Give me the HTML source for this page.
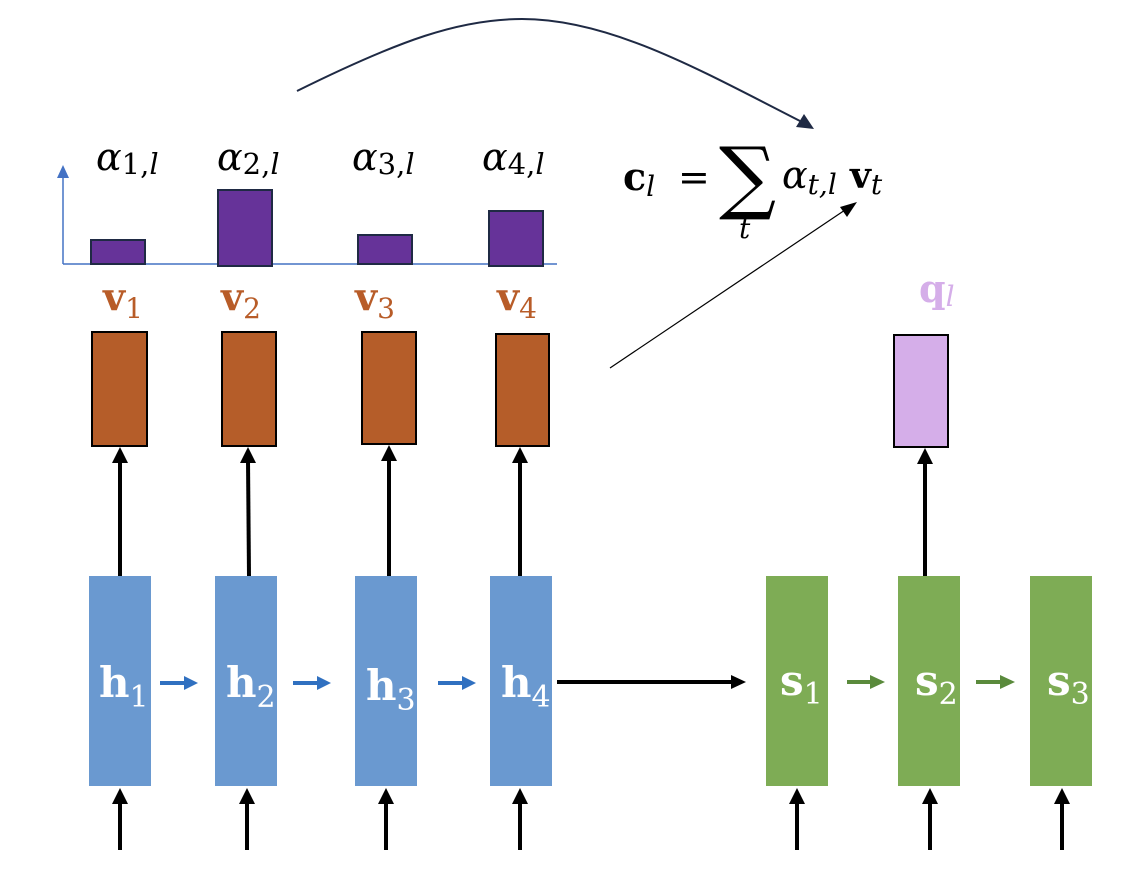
<!DOCTYPE html>
<html><head><meta charset="utf-8"><style>
html,body{margin:0;padding:0;background:#fff;}
svg{display:block;}
.m{font-family:"DejaVu Serif","Liberation Serif",serif;}
</style></head><body>
<svg width="1142" height="876" viewBox="0 0 1142 876" xmlns="http://www.w3.org/2000/svg">
<path d="M297,91 C400,40 460,19 522,19 C610,19 700,70 800,121" fill="none" stroke="#1f2a44" stroke-width="2"/>
<path d="M814,129 L796,127 L804,114 z" fill="#1f2a44"/>
<line x1="610" y1="368" x2="848" y2="208" stroke="#000" stroke-width="1.2"/>
<path d="M857,202 L840,207 L847,217 z" fill="#000"/>
<line x1="63" y1="264" x2="557" y2="264" stroke="#4472c4" stroke-width="1.5"/>
<line x1="63" y1="264" x2="63" y2="176" stroke="#4472c4" stroke-width="1.5"/>
<path d="M57,178 L69,178 L63,165 z" fill="#4472c4"/>
<g fill="#663399" stroke="#1f2a44" stroke-width="2">
<rect x="91" y="240" width="54" height="24"/>
<rect x="218" y="190" width="54" height="76"/>
<rect x="358" y="235" width="54" height="29"/>
<rect x="489" y="211" width="54" height="55"/>
</g>
<g class="m" font-size="38" font-style="italic" fill="#000">
<text x="96" y="170">α<tspan font-size="29" font-style="normal" dy="4">1,</tspan><tspan font-size="29">l</tspan></text>
<text x="217" y="170">α<tspan font-size="29" font-style="normal" dy="4">2,</tspan><tspan font-size="29">l</tspan></text>
<text x="352" y="170">α<tspan font-size="29" font-style="normal" dy="4">3,</tspan><tspan font-size="29">l</tspan></text>
<text x="482" y="170">α<tspan font-size="29" font-style="normal" dy="4">4,</tspan><tspan font-size="29">l</tspan></text>
</g>
<g class="m" font-size="38" font-weight="bold" fill="#b85c28">
<text x="103" y="310">v<tspan font-size="28" font-weight="normal" dy="8">1</tspan></text>
<text x="221" y="310">v<tspan font-size="28" font-weight="normal" dy="8">2</tspan></text>
<text x="355" y="310">v<tspan font-size="28" font-weight="normal" dy="8">3</tspan></text>
<text x="497" y="310">v<tspan font-size="28" font-weight="normal" dy="8">4</tspan></text>
</g>
<g class="m" fill="#000">
<text x="623" y="190" font-size="38" font-weight="bold">c<tspan font-size="28" font-weight="normal" font-style="italic" dy="6">l</tspan></text>
<text x="678" y="190" font-size="38">=</text>
<text x="719" y="204" font-size="80">∑</text>
<text x="739" y="238" font-size="28" font-style="italic">t</text>
<text x="782" y="188" font-size="38" font-style="italic">α<tspan font-size="28" dy="6">t,l</tspan></text>
<text x="850" y="188" font-size="36" font-weight="bold">v<tspan font-size="28" font-weight="normal" font-style="italic" dy="6">t</tspan></text>
</g>
<text class="m" x="919" y="302" font-size="38" font-weight="bold" fill="#d5aee9">q<tspan font-size="28" font-weight="normal" font-style="italic" dy="4">l</tspan></text>
<g fill="#b55d29" stroke="#000" stroke-width="2">
<rect x="92" y="332" width="55" height="114"/>
<rect x="222" y="332" width="54" height="114"/>
<rect x="362" y="332" width="54" height="112"/>
<rect x="496" y="334" width="53" height="112"/>
</g>
<rect x="894" y="335" width="54" height="112" fill="#d5aee9" stroke="#000" stroke-width="2"/>
<g stroke="#000" stroke-width="4">
<line x1="120" y1="576" x2="120" y2="460"/>
<line x1="249" y1="576" x2="248" y2="460"/>
<line x1="389" y1="576" x2="389" y2="458"/>
<line x1="520" y1="576" x2="520" y2="460"/>
<line x1="925" y1="576" x2="925" y2="461"/>
</g>
<g fill="#000">
<path d="M112,463 L128,463 L120,447 z"/>
<path d="M240,463 L256,463 L248,447 z"/>
<path d="M381,461 L397,461 L389,445 z"/>
<path d="M512,463 L528,463 L520,447 z"/>
<path d="M917,464 L933,464 L925,448 z"/>
</g>
<g fill="#6a99d0">
<rect x="89" y="576" width="62" height="210"/>
<rect x="215" y="576" width="62" height="210"/>
<rect x="355" y="576" width="62" height="210"/>
<rect x="490" y="576" width="62" height="210"/>
</g>
<g fill="#7eac55">
<rect x="766" y="576" width="62" height="210"/>
<rect x="898" y="576" width="62" height="210"/>
<rect x="1030" y="576" width="62" height="210"/>
</g>
<g class="m" font-size="42" font-weight="bold" fill="#fff">
<text x="99" y="697">h<tspan font-size="30" font-weight="normal" dy="10">1</tspan></text>
<text x="226" y="697">h<tspan font-size="30" font-weight="normal" dy="10">2</tspan></text>
<text x="366" y="700">h<tspan font-size="30" font-weight="normal" dy="10">3</tspan></text>
<text x="501" y="697">h<tspan font-size="30" font-weight="normal" dy="10">4</tspan></text>
<text x="780" y="695">s<tspan font-size="30" font-weight="normal" dy="9">1</tspan></text>
<text x="915" y="695">s<tspan font-size="30" font-weight="normal" dy="9">2</tspan></text>
<text x="1047" y="695">s<tspan font-size="30" font-weight="normal" dy="9">3</tspan></text>
</g>
<g stroke="#3070c0" stroke-width="4">
<line x1="160" y1="683" x2="187" y2="683"/>
<line x1="293" y1="683" x2="320" y2="683"/>
<line x1="438" y1="683" x2="465" y2="683"/>
</g>
<g fill="#3070c0">
<path d="M184,676 L198,683 L184,690 z"/>
<path d="M317,676 L331,683 L317,690 z"/>
<path d="M462,676 L476,683 L462,690 z"/>
</g>
<g stroke="#5a8a3c" stroke-width="4">
<line x1="847" y1="682" x2="873" y2="682"/>
<line x1="976" y1="682" x2="1003" y2="682"/>
</g>
<g fill="#5a8a3c">
<path d="M870,675 L885,682 L870,689 z"/>
<path d="M1000,675 L1015,682 L1000,689 z"/>
</g>
<line x1="557" y1="682" x2="734" y2="682" stroke="#000" stroke-width="4"/>
<path d="M731,675 L746,682 L731,689 z" fill="#000"/>
<g stroke="#000" stroke-width="4">
<line x1="120" y1="850" x2="120" y2="800"/>
<line x1="247" y1="850" x2="247" y2="800"/>
<line x1="386" y1="850" x2="386" y2="800"/>
<line x1="520" y1="850" x2="520" y2="800"/>
<line x1="797" y1="850" x2="797" y2="800"/>
<line x1="930" y1="850" x2="930" y2="800"/>
<line x1="1062" y1="850" x2="1062" y2="800"/>
</g>
<g fill="#000">
<path d="M112,804 L128,804 L120,788 z"/>
<path d="M239,804 L255,804 L247,788 z"/>
<path d="M378,804 L394,804 L386,788 z"/>
<path d="M512,804 L528,804 L520,788 z"/>
<path d="M789,804 L805,804 L797,788 z"/>
<path d="M922,804 L938,804 L930,788 z"/>
<path d="M1054,804 L1070,804 L1062,788 z"/>
</g>
</svg>
</body></html>
